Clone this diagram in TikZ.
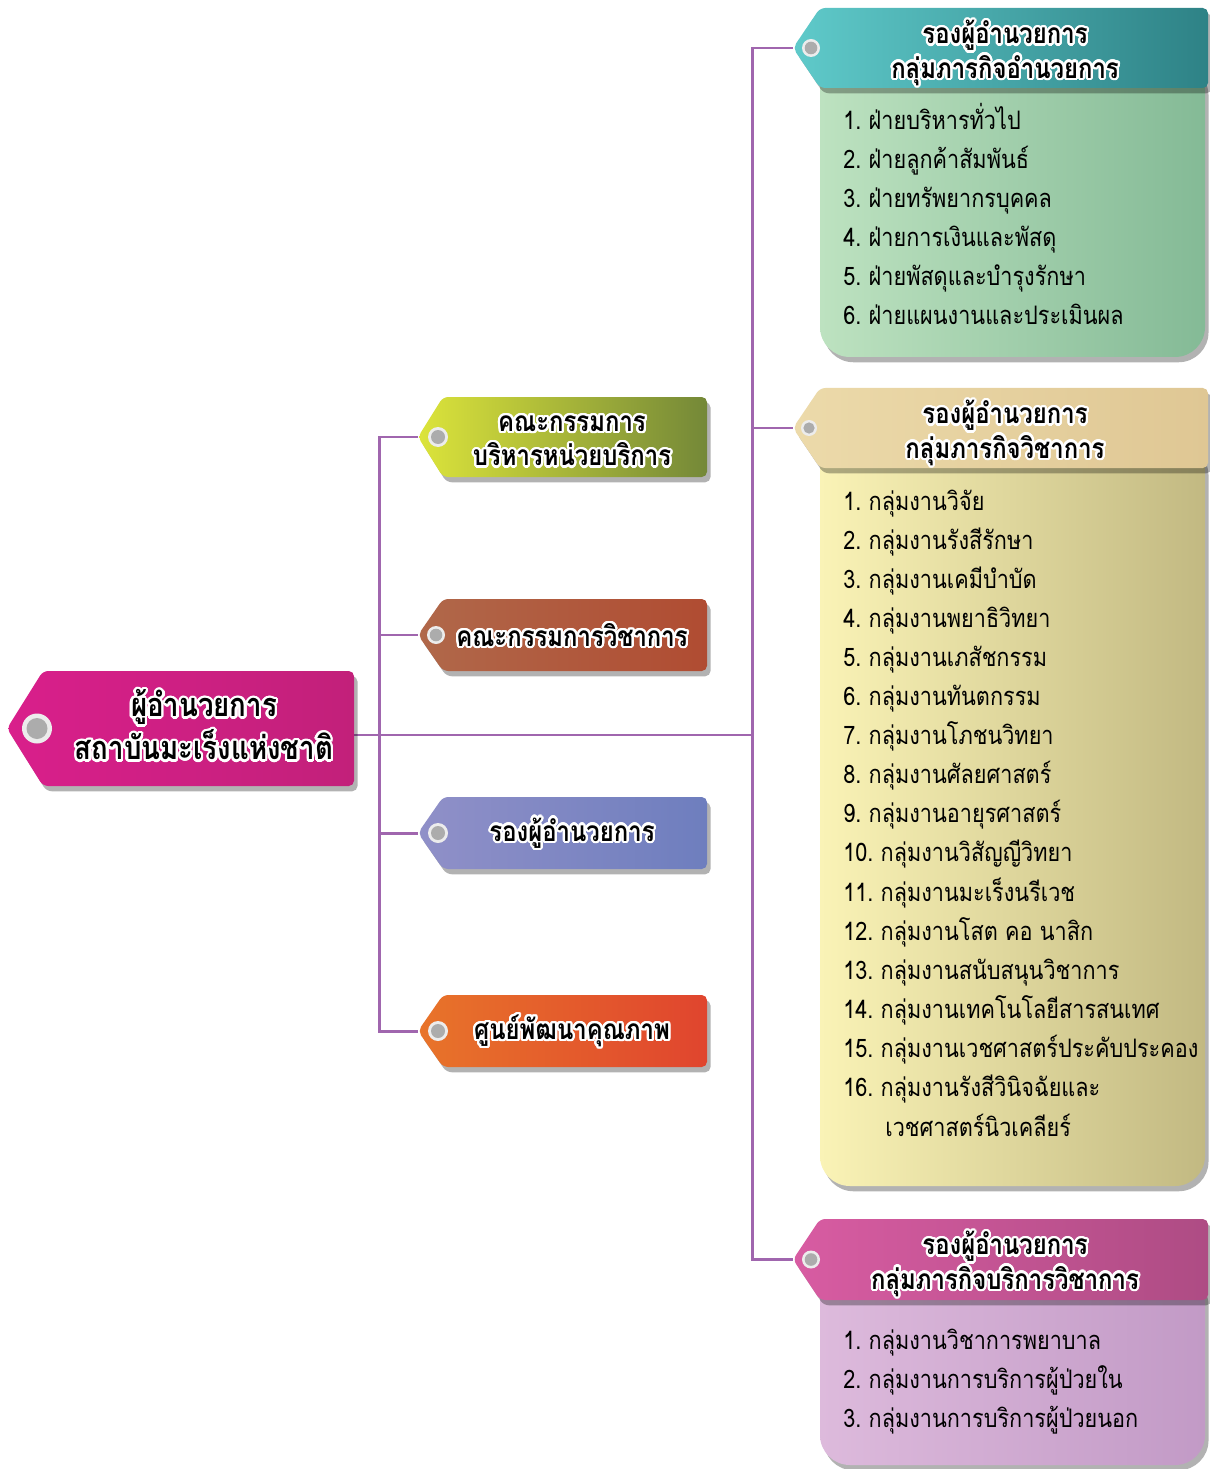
\documentclass[tikz,border=0pt]{standalone}
\usepackage{fontspec}
\usepackage[copies]{contour}
\usetikzlibrary{shadows}
\newfontfamily\thaifont[Script=Thai, FakeStretch=0.85]{Loma}
\contourlength{1.3pt}
\contournumber{24}

\definecolor{linkpurple}{HTML}{A066AE}
\definecolor{dirL}{HTML}{D91F8B}
\definecolor{dirR}{HTML}{C2207A}
\definecolor{boardL}{HTML}{DCE43A}
\definecolor{boardR}{HTML}{748838}
\definecolor{acadL}{HTML}{B0684A}
\definecolor{acadR}{HTML}{B04C32}
\definecolor{depL}{HTML}{9090C8}
\definecolor{depR}{HTML}{6E7EBE}
\definecolor{qualL}{HTML}{E8742A}
\definecolor{qualR}{HTML}{E0452E}
\definecolor{admL}{HTML}{5FCACA}
\definecolor{admR}{HTML}{2E8286}
\definecolor{acaL}{HTML}{ECDAAA}
\definecolor{acaR}{HTML}{DFC794}
\definecolor{svcL}{HTML}{D85CA2}
\definecolor{svcR}{HTML}{AE4C84}
\definecolor{greenL}{HTML}{BDE2C0}
\definecolor{greenR}{HTML}{84BA96}
\definecolor{yellowL}{HTML}{FAF3B6}
\definecolor{yellowR}{HTML}{C2B982}
\definecolor{lilacL}{HTML}{DDBADC}
\definecolor{lilacR}{HTML}{C29AC6}

\newcommand{\halo}[1]{\contour{white}{#1}}
% tag: x1 y1 x2 y2 tip radius left right
\newcommand{\tagshape}[8]{%
  \shade[left color=#7, right color=#8, rounded corners=3pt, tagshadow]
    (#1,#2) -- (#3,#2) -- (#3,#4) -- (#1,#4) -- ({#1-#5},{(#2+#4)/2}) -- cycle;
  \fill[white!85!gray] ({#1-#5+2*#6},{(#2+#4)/2}) circle ({#6*0.02cm});
  \fill[gray!65] ({#1-#5+2*#6},{(#2+#4)/2}) circle ({0.7*#6*0.02cm});
}

\tikzset{
  tagshadow/.style={drop shadow={shadow xshift=2pt, shadow yshift=-3pt, opacity=0.3, fill=black}},
  conn/.style={draw=linkpurple, line width=1.7pt},
  headtext/.style={align=center, inner sep=0pt, font=\thaifont\bfseries\fontsize{16}{19.5}\selectfont},
  bigtext/.style={align=center, inner sep=0pt, font=\thaifont\bfseries\fontsize{18.5}{24.5}\selectfont},
  item/.style={anchor=base west, inner sep=0pt, font=\thaifont\fontsize{14.5}{17}\selectfont}
}

\begin{document}
\begin{tikzpicture}[x=0.02cm,y=-0.02cm]
\useasboundingbox (0,0) rectangle (1209,1469);

% panels
\shade[left color=greenL, right color=greenR, rounded corners=0.6cm, tagshadow] (820,60) rectangle (1205,357);
\shade[left color=yellowL, right color=yellowR, rounded corners=0.6cm, tagshadow] (820,440) rectangle (1205,1186);
\shade[left color=lilacL, right color=lilacR, rounded corners=0.6cm, tagshadow] (820,1270) rectangle (1205,1465);

% connectors
\coordinate (dirOut) at (354,735);
\coordinate (spineL) at (379,735);
\coordinate (spineR) at (752,735);
\coordinate (tipBoard) at (418,437);
\coordinate (tipAcad) at (418,635);
\coordinate (tipDep) at (418,833);
\coordinate (tipQual) at (418,1031);
\coordinate (tipAdm) at (793,48);
\coordinate (tipAca) at (793,428);
\coordinate (tipSvc) at (793,1259);

\draw[conn] (tipBoard) -| (spineL) |- (tipQual);
\draw[conn] (spineL) |- (tipAcad);
\draw[conn] (spineL) |- (tipDep);
\draw[conn] (tipAdm) -| (spineR) |- (tipSvc);
\draw[conn] (spineR) |- (tipAca);
\draw[conn] (dirOut) -- (spineR);

% tags
\tagshape{43}{671}{354}{786}{36}{15}{dirL}{dirR}
\tagshape{443}{397}{707}{477}{25}{10}{boardL}{boardR}
\tagshape{443}{599}{707}{671}{25}{9}{acadL}{acadR}
\tagshape{443}{797}{707}{869}{25}{10}{depL}{depR}
\tagshape{443}{995}{707}{1067}{25}{10}{qualL}{qualR}
\tagshape{820}{8}{1208}{88}{27}{9}{admL}{admR}
\tagshape{820}{388}{1208}{468}{27}{8}{acaL}{acaR}
\tagshape{820}{1219}{1208}{1300}{27}{9}{svcL}{svcR}

% tag texts
\node[bigtext] (director) at (204,726) {\halo{ผู้อำนวยการ}\\\halo{สถาบันมะเร็งแห่งชาติ}};
\node[headtext] (board) at (572,442) {\halo{คณะกรรมการ}\\\halo{บริหารหน่วยบริการ}};
\node[headtext] (acad) at (572,636) {\halo{คณะกรรมการวิชาการ}};
\node[headtext] (deputy) at (572,834) {\halo{รองผู้อำนวยการ}};
\node[headtext] (quality) at (572,1032) {\halo{ศูนย์พัฒนาคุณภาพ}};
\node[headtext] (admin) at (1005,54) {\halo{รองผู้อำนวยการ}\\\halo{กลุ่มภารกิจอำนวยการ}};
\node[headtext] (academic) at (1005,434) {\halo{รองผู้อำนวยการ}\\\halo{กลุ่มภารกิจวิชาการ}};
\node[headtext] (service) at (1005,1265) {\halo{รองผู้อำนวยการ}\\\halo{กลุ่มภารกิจบริการวิชาการ}};

% lists
\foreach \t [count=\i] in {ฝ่ายบริหารทั่วไป, ฝ่ายลูกค้าสัมพันธ์, ฝ่ายทรัพยากรบุคคล,
  ฝ่ายการเงินและพัสดุ, ฝ่ายพัสดุและบำรุงรักษา, ฝ่ายแผนงานและประเมินผล}
  \node[item] (adm\i) at (843,{91+39*\i}) {\i.\ \t};

\foreach \t [count=\i] in {กลุ่มงานวิจัย, กลุ่มงานรังสีรักษา, กลุ่มงานเคมีบำบัด,
  กลุ่มงานพยาธิวิทยา, กลุ่มงานเภสัชกรรม, กลุ่มงานทันตกรรม, กลุ่มงานโภชนวิทยา,
  กลุ่มงานศัลยศาสตร์, กลุ่มงานอายุรศาสตร์, กลุ่มงานวิสัญญีวิทยา, กลุ่มงานมะเร็งนรีเวช,
  กลุ่มงานโสต คอ นาสิก, กลุ่มงานสนับสนุนวิชาการ, กลุ่มงานเทคโนโลยีสารสนเทศ,
  กลุ่มงานเวชศาสตร์ประคับประคอง, กลุ่มงานรังสีวินิจฉัยและ}
  \node[item] (aca\i) at (843,{470.9+39.1*\i}) {\i.\ \t};
\node[item] (aca16b) at (885,1136) {เวชศาสตร์นิวเคลียร์};

\foreach \t [count=\i] in {กลุ่มงานวิชาการพยาบาล, กลุ่มงานการบริการผู้ป่วยใน,
  กลุ่มงานการบริการผู้ป่วยนอก}
  \node[item] (svc\i) at (843,{1310+39*\i}) {\i.\ \t};

\end{tikzpicture}
\end{document}
